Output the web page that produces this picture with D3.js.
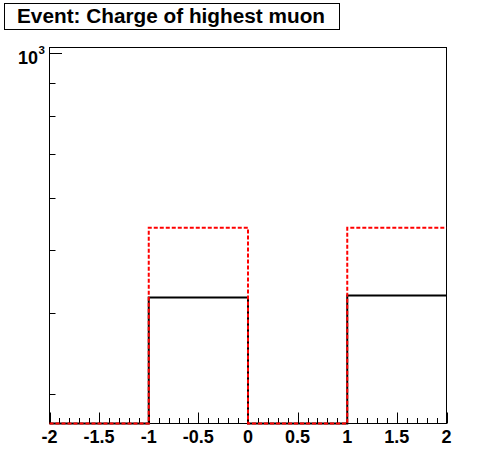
<!DOCTYPE html>
<html><head><meta charset="utf-8">
<script src="https://cdn.jsdelivr.net/npm/d3@7"></script>
<style>body{margin:0;background:#fff}svg{display:block}text{font-family:"Liberation Sans",Arial,sans-serif;font-weight:bold}</style>
</head><body>
<svg id="c" width="496" height="472"></svg>
<script>
const title = "Event: Charge of highest muon";
const binEdges = [-2, -1, 0, 1, 2];
const blackValues = [0, 422, 0, 425];
const redValues = [0, 540, 0, 540];
const xTickLabels = ["-2", "-1.5", "-1", "-0.5", "0", "0.5", "1", "1.5", "2"];
const xTickValues = [-2, -1.5, -1, -0.5, 0, 0.5, 1, 1.5, 2];
const yMinorTicks = [300, 400, 500, 600, 700, 800, 900];
const yMajorTicks = [1000];
const yDomain = [270.5, 1020.7];

const svg = d3.select("#c");
const L = 49.5, R = 446.5, T = 47.5, B = 423.5;
const x = d3.scaleLinear().domain([-2, 2]).range([L, R]);
const y = d3.scaleLog().domain(yDomain).range([B, T]).clamp(true);

// title box
svg.append("rect").attr("x", 4.5).attr("y", 3.5).attr("width", 335).attr("height", 26)
  .attr("fill", "#fff").attr("stroke", "#000").attr("stroke-width", 1);
svg.append("text").attr("x", 17).attr("y", 23).attr("font-size", 19.5)
  .attr("textLength", 308).attr("lengthAdjust", "spacingAndGlyphs").text(title);

// frame
svg.append("rect").attr("x", L).attr("y", T).attr("width", R - L).attr("height", B - T)
  .attr("fill", "none").attr("stroke", "#000").attr("stroke-width", 1);

// x ticks
const minorX = d3.range(0, 41).map(i => -2 + i * 0.1);
svg.append("g").selectAll("line").data(minorX).join("line")
  .attr("x1", d => Math.round(x(d)) + 0.5).attr("x2", d => Math.round(x(d)) + 0.5)
  .attr("y1", B).attr("y2", (d, i) => i % 5 === 0 ? B - 11 : B - 5.5)
  .attr("stroke", "#000").attr("stroke-width", 1);
svg.append("g").selectAll("text").data(xTickValues).join("text")
  .attr("x", d => x(d)).attr("y", 442.5).attr("text-anchor", "middle").attr("font-size", 18)
  .text((d, i) => xTickLabels[i]);

// y ticks
svg.append("g").selectAll("line").data(yMinorTicks).join("line")
  .attr("x1", L).attr("x2", L + 6).attr("y1", d => Math.round(y(d)) + 0.5).attr("y2", d => Math.round(y(d)) + 0.5)
  .attr("stroke", "#000");
svg.append("g").selectAll("line").data(yMajorTicks).join("line")
  .attr("x1", L).attr("x2", L + 12.5).attr("y1", d => Math.round(y(d)) + 0.5).attr("y2", d => Math.round(y(d)) + 0.5)
  .attr("stroke", "#000");
yMajorTicks.forEach(v => {
  const yy = y(v);
  svg.append("text").attr("x", 38).attr("y", yy + 10.5).attr("text-anchor", "end").attr("font-size", 18).text("10");
  svg.append("text").attr("x", 38.5).attr("y", yy + 1).attr("font-size", 11.5).text(String(Math.round(Math.log10(v))));
});

function stepPath(vals) {
  const p = d3.path();
  p.moveTo(x(binEdges[0]), y(vals[0]));
  vals.forEach((v, i) => {
    if (i > 0) p.lineTo(x(binEdges[i]), y(v));
    p.lineTo(x(binEdges[i + 1]), y(v));
  });
  return p.toString();
}
svg.append("path").attr("d", stepPath(blackValues)).attr("fill", "none")
  .attr("stroke", "#000").attr("stroke-width", 2);
svg.append("path").attr("d", stepPath(redValues)).attr("fill", "none")
  .attr("stroke", "#ff0000").attr("stroke-width", 2).attr("stroke-dasharray", "4,2");
</script>
</body></html>
